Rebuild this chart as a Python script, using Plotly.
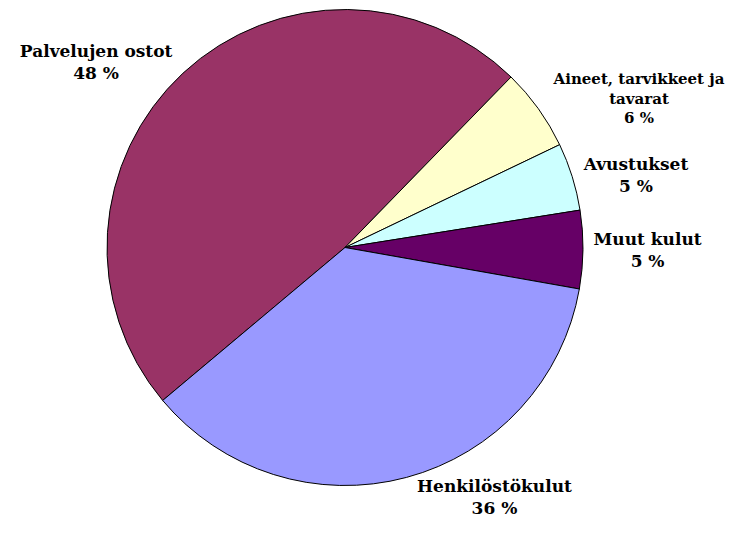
import plotly.graph_objects as go

labels = ["Palvelujen ostot", "Aineet, tarvikkeet ja<br>tavarat", "Avustukset", "Muut kulut", "Henkilöstökulut"]
values = [48.4, 5.6, 4.6, 5.3, 36.1]
colors = ["#993366", "#FFFFCC", "#CCFFFF", "#660066", "#9999FF"]

total = sum(values)
texts = [f"<b>{l}<br>{round(v / total * 100)} %</b>" for l, v in zip(labels, values)]

FONT = "DejaVu Serif"

fig = go.Figure(go.Pie(
    labels=labels,
    values=values,
    text=texts,
    textinfo="text",
    textposition="outside",
    sort=False,
    direction="clockwise",
    rotation=230,
    marker=dict(colors=colors, line=dict(color="black", width=1)),
    outsidetextfont=dict(family=FONT, size=[17, 15, 17, 17, 17], color="black"),
    hoverinfo="label+percent",
    showlegend=False,
    automargin=False,
))

fig.update_layout(
    width=748, height=544,
    margin=dict(l=99, r=173, t=1, b=66),
    paper_bgcolor="white",
    plot_bgcolor="white",
    font=dict(family=FONT, size=17, color="black"),
)

fig.write_html("out.html")
